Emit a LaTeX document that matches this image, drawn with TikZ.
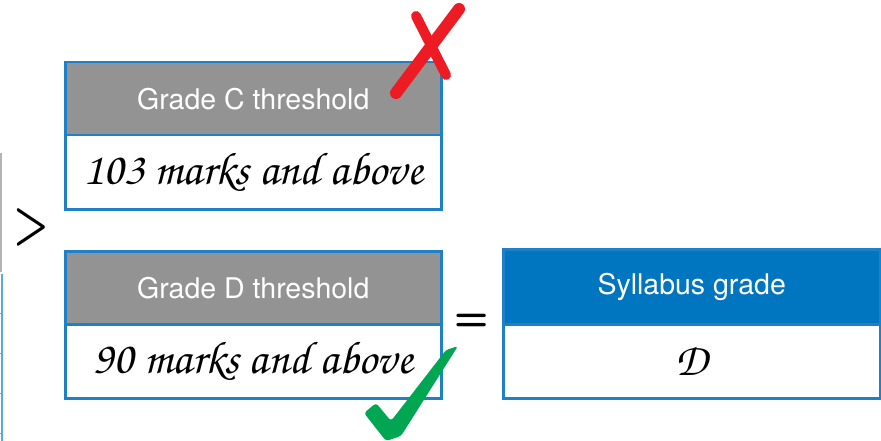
\documentclass[tikz,border=0pt]{standalone}
\usepackage{fontspec}
\setmainfont{TeX Gyre Heros}
\newfontfamily\hand{TeX Gyre Chorus}
\definecolor{bblue}{HTML}{1F80C8}
\definecolor{hgray}{HTML}{939393}
\definecolor{sblue}{HTML}{0075C0}
\definecolor{xred}{HTML}{ED1C24}
\definecolor{cgreen}{HTML}{00A651}
\definecolor{edgegray}{HTML}{B4B4B4}
\definecolor{edgeblue}{HTML}{5AA8E0}
\tikzset{
  header/.style={draw=bblue, line width=2.5pt, fill=hgray, minimum width=376pt, minimum height=73pt,
    inner sep=0pt, text=white, font=\fontsize{28.5}{28.5}\selectfont, anchor=north west},
  bodybox/.style={draw=bblue, line width=2.5pt, fill=white, minimum width=376pt, minimum height=74pt,
    inner sep=0pt, text=black, font=\hand\fontsize{46}{46}\selectfont, anchor=north west},
  relsym/.style={inner sep=0pt, font=\sffamily\bfseries\fontsize{40}{40}\selectfont},
}
\begin{document}
\begin{tikzpicture}[x=1pt,y=-1pt]
\useasboundingbox (0,0) rectangle (881,441);
% left edge remnants
\draw[edgegray, line width=1.5pt] (1,153) -- (1,272);
\draw[edgeblue, line width=1.5pt] (2,274) -- (2,441);
\foreach \yy in {313,353,393,433} \draw[edgeblue, line width=1pt] (0,\yy) -- (3,\yy);
% grade C
\node[header] (hc) at (64,61) {Grade C threshold};
\node[bodybox] (bc) at (64,134) {103 marks and above};
% grade D
\node[header] (hd) at (64,250) {Grade D threshold};
\node[bodybox] (bd) at (64,323) {90 marks and above};
% syllabus
\node[header, fill=sblue, minimum width=377pt, minimum height=75pt] (hs) at (502,248) {Syllabus grade};
\node[bodybox, minimum width=377pt] (bs) at (502,323) {D};
% relations
\node[relsym] (gt) at (31.5,227.5) {\scalebox{1}[1.4]{>}};
\node[relsym] (eq) at (471.5,322) {=};
% red cross
\draw[xred, line width=12pt, line cap=round] (396,93) -- (459,9);
\draw[xred, line width=10pt, line cap=round] (416,16) -- (446,75);
% green check
\fill[cgreen, rounded corners=3pt] (364,413) -- (376,403) -- (391,421) -- (446,350) -- (458,346) -- (401,436) -- (386,441) -- cycle;
\end{tikzpicture}
\end{document}
